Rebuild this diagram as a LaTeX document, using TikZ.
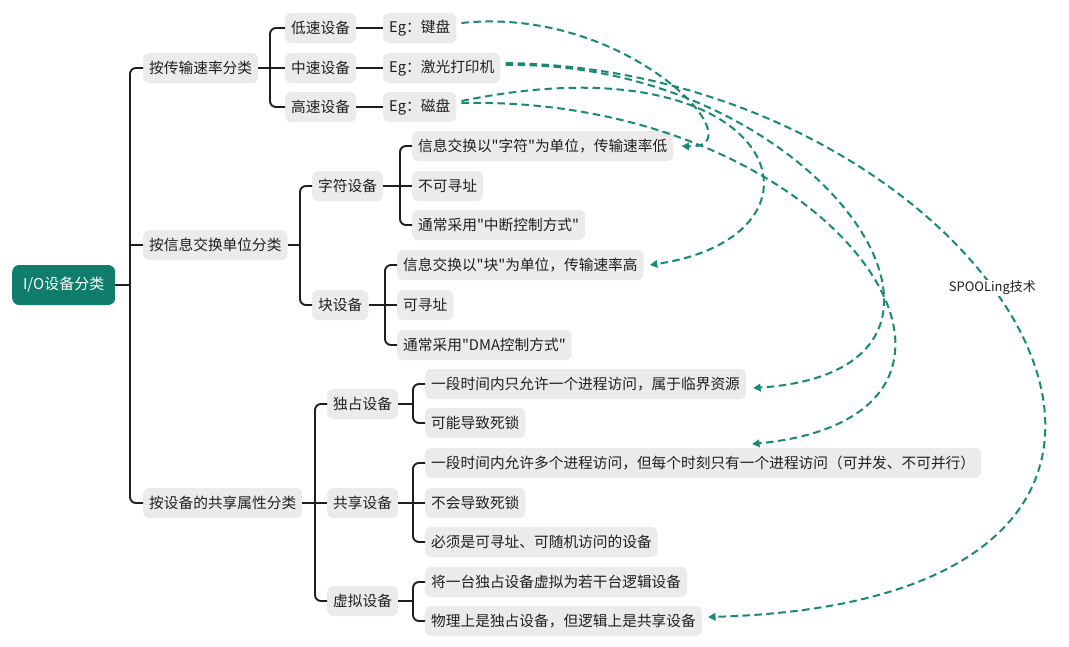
\documentclass[tikz,border=0pt]{standalone}
\usepackage{fontspec}
\newfontfamily\cjkf{Noto Sans CJK SC}
\usetikzlibrary{arrows.meta}
\definecolor{rootteal}{HTML}{107D6C}
\definecolor{linkteal}{HTML}{178A73}
\definecolor{boxgray}{HTML}{EBEBEB}
\definecolor{txt}{HTML}{1F1F1F}
\definecolor{treecol}{HTML}{1E1E1E}
\begin{document}
\begin{tikzpicture}[x=1pt,y=-1pt,
  box/.style={fill=boxgray, rounded corners=6pt, minimum height=30pt, inner xsep=6pt, inner ysep=0pt, anchor=west, text=txt, font=\cjkf\fontsize{14.7}{16}\selectfont},
  rootbox/.style={fill=rootteal, rounded corners=7pt, minimum height=40pt, minimum width=103pt, inner xsep=6pt, anchor=west, text=white, font=\cjkf\fontsize{15}{17}\selectfont},
  tree/.style={draw=treecol, line width=1.9pt},
  trunk/.style={tree, rounded corners=6pt},
  dlink/.style={draw=linkteal, line width=2pt, dash pattern=on 7.5pt off 4.5pt, -{Triangle[length=7.5pt,width=7.5pt]}},
  spool/.style={fill=white, text=txt, inner sep=1pt, font=\cjkf\fontsize{13}{15}\selectfont}]
\useasboundingbox (0,0) rectangle (1069,646);

\node[rootbox] (r) at (12,285) {I/O设备分类};
\node[box] (a) at (143,68) {按传输速率分类};
\node[box] (b) at (143,245) {按信息交换单位分类};
\node[box] (c) at (143,503) {按设备的共享属性分类};

\node[box] (a1) at (285,28) {低速设备};
\node[box] (a2) at (285,68) {中速设备};
\node[box] (a3) at (285,107) {高速设备};
\node[box] (e1) at (383,28) {Eg：键盘};
\node[box] (e2) at (383,68) {Eg：激光打印机};
\node[box] (e3) at (383,107) {Eg：磁盘};

\node[box] (b1) at (312,186) {字符设备};
\node[box] (b2) at (312,305) {块设备};
\node[box] (b11) at (412,146) {信息交换以"字符"为单位，传输速率低};
\node[box] (b12) at (412,186) {不可寻址};
\node[box] (b13) at (412,225) {通常采用"中断控制方式"};
\node[box] (b21) at (397,265) {信息交换以"块"为单位，传输速率高};
\node[box] (b22) at (397,305) {可寻址};
\node[box] (b23) at (397,345) {通常采用"DMA控制方式"};

\node[box] (c1) at (327,404) {独占设备};
\node[box] (c2) at (327,503) {共享设备};
\node[box] (c3) at (327,601) {虚拟设备};
\node[box] (c11) at (425,384) {一段时间内只允许一个进程访问，属于临界资源};
\node[box] (c12) at (425,423) {可能导致死锁};
\node[box] (c21) at (425,463) {一段时间内允许多个进程访问，但每个时刻只有一个进程访问（可并发、不可并行）};
\node[box] (c22) at (425,503) {不会导致死锁};
\node[box] (c23) at (425,542) {必须是可寻址、可随机访问的设备};
\node[box] (c31) at (425,582) {将一台独占设备虚拟为若干台逻辑设备};
\node[box] (c32) at (425,621) {物理上是独占设备，但逻辑上是共享设备};

% tree connectors
\coordinate (t0) at ([xshift=-13pt]a.west);
\draw[tree] (r.east) -- (r.east -| t0);
\draw[trunk] (a.west) -- (a.west -| t0) -- (c.west -| t0) -- (c.west);
\draw[tree] (b.west) -- (b.west -| t0);

\coordinate (ta) at ([xshift=-15pt]a1.west);
\draw[tree] (a.east) -- (a.east -| ta);
\draw[trunk] (a1.west) -- (a1.west -| ta) -- (a3.west -| ta) -- (a3.west);
\draw[tree] (a2.west) -- (a2.west -| ta);
\draw[tree] (a1.east) -- (e1.west);
\draw[tree] (a2.east) -- (e2.west);
\draw[tree] (a3.east) -- (e3.west);

\coordinate (tb) at ([xshift=-12pt]b1.west);
\draw[tree] (b.east) -- (b.east -| tb);
\draw[trunk] (b1.west) -- (b1.west -| tb) -- (b2.west -| tb) -- (b2.west);

\coordinate (tb1) at ([xshift=-12pt]b11.west);
\draw[tree] (b1.east) -- (b1.east -| tb1);
\draw[trunk] (b11.west) -- (b11.west -| tb1) -- (b13.west -| tb1) -- (b13.west);
\draw[tree] (b12.west) -- (b12.west -| tb1);

\coordinate (tb2) at ([xshift=-12pt]b21.west);
\draw[tree] (b2.east) -- (b2.east -| tb2);
\draw[trunk] (b21.west) -- (b21.west -| tb2) -- (b23.west -| tb2) -- (b23.west);
\draw[tree] (b22.west) -- (b22.west -| tb2);

\coordinate (tc) at ([xshift=-12pt]c1.west);
\draw[tree] (c.east) -- (c.east -| tc);
\draw[trunk] (c1.west) -- (c1.west -| tc) -- (c3.west -| tc) -- (c3.west);
\draw[tree] (c2.west) -- (c2.west -| tc);

\coordinate (tc1) at ([xshift=-12pt]c11.west);
\draw[tree] (c1.east) -- (c1.east -| tc1);
\draw[trunk] (c11.west) -- (c11.west -| tc1) -- (c12.west -| tc1) -- (c12.west);

\coordinate (tc2) at ([xshift=-12pt]c21.west);
\draw[tree] (c2.east) -- (c2.east -| tc2);
\draw[trunk] (c21.west) -- (c21.west -| tc2) -- (c23.west -| tc2) -- (c23.west);
\draw[tree] (c22.west) -- (c22.west -| tc2);

\coordinate (tc3) at ([xshift=-12pt]c31.west);
\draw[tree] (c3.east) -- (c3.east -| tc3);
\draw[trunk] (c31.west) -- (c31.west -| tc3) -- (c32.west -| tc3) -- (c32.west);

% dashed links
\coordinate (s1) at ([xshift=5pt,yshift=5pt]e1.east);
\coordinate (s2a) at ([xshift=5pt,yshift=5pt]e2.east);
\coordinate (s2b) at ([xshift=5pt,yshift=3pt]e2.east);
\coordinate (s3a) at ([xshift=5pt,yshift=6pt]e3.east);
\coordinate (s3b) at ([xshift=5pt,yshift=4pt]e3.east);
\coordinate (d1) at ([xshift=8pt]b11.east);
\coordinate (d2) at ([xshift=6pt]b21.east);
\coordinate (d3) at ([xshift=7pt,yshift=-4pt]c11.east);
\coordinate (d4) at (752,444);
\coordinate (d5) at ([xshift=6pt,yshift=4pt]c32.east);

\draw[dlink] (s1) .. controls (630,5) and (760,150) .. (d1);
\draw[dlink] (s3a) .. controls (780,35) and (850,235) .. (d2);
\draw[dlink] (s2b) .. controls (820,60) and (1030,370) .. (d3);
\draw[dlink] (s3b) .. controls (840,95) and (1050,415) .. (d4);
\draw[dlink] (s2a) .. controls (1000,70) and (1320,600) .. node[pos=0.44, spool] {SPOOLing技术} (d5);
\end{tikzpicture}
\end{document}
